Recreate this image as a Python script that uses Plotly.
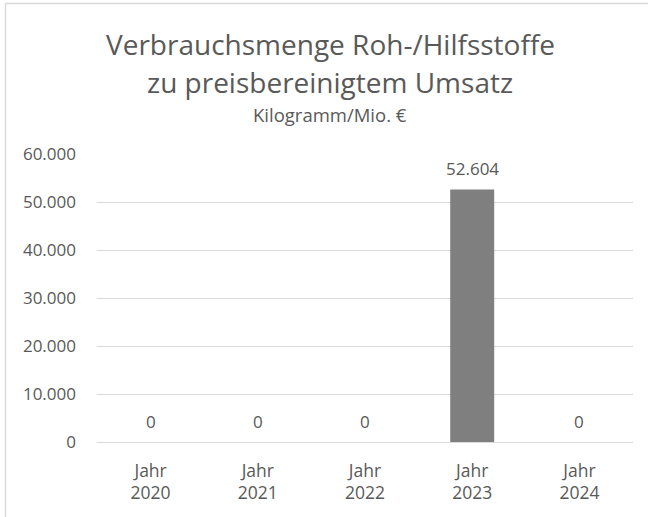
import plotly.graph_objects as go

categories = ["Jahr<br>2020", "Jahr<br>2021", "Jahr<br>2022", "Jahr<br>2023", "Jahr<br>2024"]
values = [0, 0, 0, 52604, 0]
y_ticks = [0, 10000, 20000, 30000, 40000, 50000, 60000]

W, H = 648, 517
ML, MR, MT, MB = 97, 15, 154, 75
PW, PH = W - ML - MR, H - MT - MB

def px(x):
    return (x - ML) / PW

def py(y):
    return (H - MB - y) / PH

TXT = "#595959"
GRID = "#d9d9d9"
FONT = "Open Sans"

fig = go.Figure(go.Bar(
    x=categories, y=values,
    marker=dict(color="#7f7f7f", line=dict(width=0)),
    cliponaxis=False, width=0.41, hoverinfo="x+y",
))

labels = [
    dict(text=f"{v:,}".replace(",", "."), x=c, y=v, xref="x", yref="y",
         showarrow=False, xanchor="center", yanchor="middle", yshift=21,
         font=dict(size=17, color=TXT, family=FONT))
    for c, v in zip(categories, values)
]

fig.update_layout(
    width=W, height=H,
    margin=dict(l=ML, r=MR, t=MT, b=MB),
    paper_bgcolor="white", plot_bgcolor="white",
    separators=",.",
    showlegend=False,
    font=dict(family=FONT, color=TXT),
    xaxis=dict(showgrid=False, showline=False, ticks="", ticklabelstandoff=16,
               tickfont=dict(size=17.5, color=TXT, family=FONT)),
    yaxis=dict(range=[0, 60000], tickvals=y_ticks, tickformat=",d",
               gridcolor=GRID, gridwidth=1.3, zeroline=True, zerolinecolor=GRID,
               zerolinewidth=1.3, showline=False, ticks="", ticklabelstandoff=20,
               tickfont=dict(size=17, color=TXT, family=FONT)),
    annotations=labels + [
        dict(text="Verbrauchsmenge Roh-/Hilfsstoffe", xref="paper", yref="paper",
             x=px(330), y=py(44), showarrow=False, xanchor="center", yanchor="middle",
             font=dict(size=28, color=TXT, family=FONT)),
        dict(text="zu preisbereinigtem Umsatz", xref="paper", yref="paper",
             x=px(330), y=py(82), showarrow=False, xanchor="center", yanchor="middle",
             font=dict(size=28, color=TXT, family=FONT)),
        dict(text="Kilogramm/Mio. €", xref="paper", yref="paper",
             x=px(330), y=py(115), showarrow=False, xanchor="center", yanchor="middle",
             font=dict(size=18.5, color=TXT, family=FONT)),
    ],
    shapes=[
        dict(type="line", xref="paper", yref="paper", x0=px(5.5), x1=px(5.5),
             y0=py(3), y1=py(517), line=dict(color=GRID, width=1.5)),
        dict(type="line", xref="paper", yref="paper", x0=px(5.5), x1=px(648),
             y0=py(3.5), y1=py(3.5), line=dict(color=GRID, width=1.5)),
    ],
)

fig.write_html("out.html", config={"displayModeBar": False},
               post_script="document.body.style.margin='0';")
